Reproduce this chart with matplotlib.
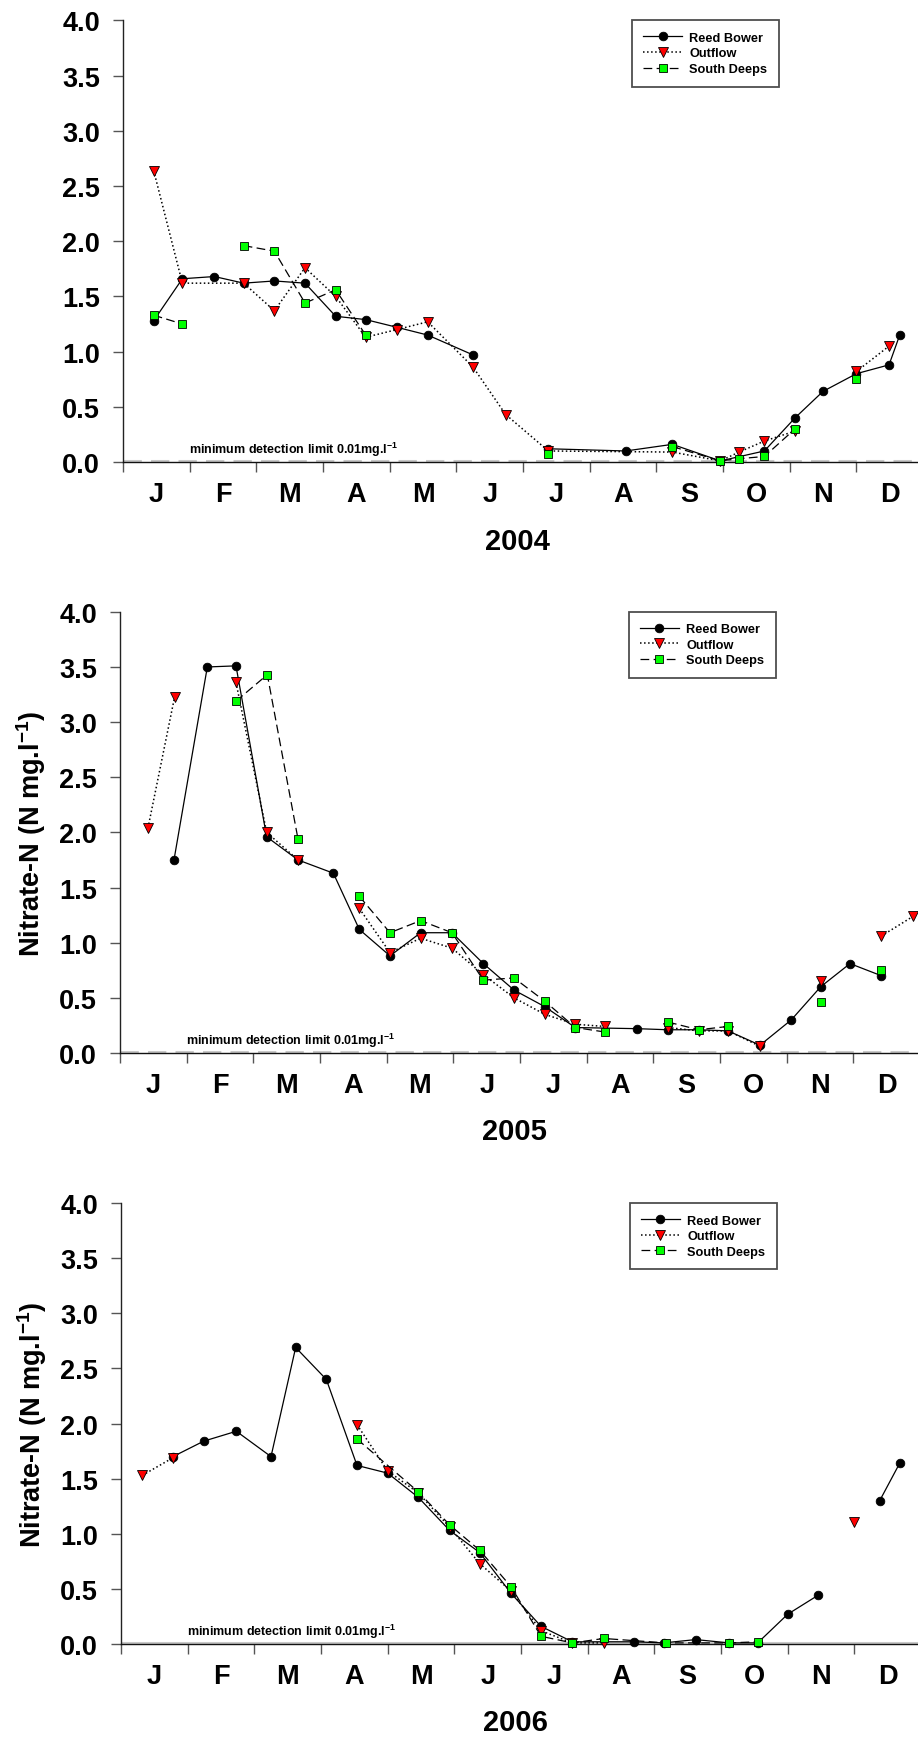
import numpy as np
import matplotlib
matplotlib.use("Agg")
import matplotlib.pyplot as plt

nan = np.nan

plt.rcParams['font.family'] = ['Liberation Sans', 'DejaVu Sans']
plt.rcParams['font.weight'] = 'bold'
plt.rcParams['mathtext.fontset'] = 'custom'
plt.rcParams['mathtext.rm'] = 'Liberation Sans:bold'
plt.rcParams['mathtext.bf'] = 'Liberation Sans:bold'

months = ['J', 'F', 'M', 'A', 'M', 'J', 'J', 'A', 'S', 'O', 'N', 'D']
years = ['2004', '2005', '2006']
series_names = ['Reed Bower', 'Outflow', 'South Deeps']

# x = months since 1 January, nan = gap in the line
rb04_m = [0.46, 0.89, 1.37, 1.81, 2.27, 2.73, 3.19, 3.64, 4.11, 4.57, 5.25, 5.8, 6.38, 7.54, 8.24, 8.96, 9.62, 10.08, 10.5, 11.0, 11.49, 11.65]
rb04_v = [1.28, 1.66, 1.68, 1.62, 1.64, 1.62, 1.32, 1.29, 1.22, 1.15, 0.97, nan, 0.12, 0.10, 0.16, 0.01, 0.10, 0.40, 0.64, 0.80, 0.88, 1.15]
of04_m = [0.46, 0.89, 1.81, 2.27, 2.73, 3.19, 3.64, 4.11, 4.57, 5.25, 5.74, 6.38, 8.24, 8.96, 9.24, 9.62, 10.08, 10.5, 11.0, 11.49]
of04_v = [2.64, 1.62, 1.62, 1.37, 1.76, 1.50, 1.13, 1.20, 1.27, 0.86, 0.43, 0.10, 0.09, 0.01, 0.09, 0.19, 0.28, nan, 0.82, 1.05]
sd04_m = [0.46, 0.89, 1.3, 1.81, 2.27, 2.73, 3.19, 3.64, 5.0, 6.38, 7.3, 8.24, 8.96, 9.24, 9.62, 10.08, 10.5, 11.0]
sd04_v = [1.33, 1.25, nan, 1.96, 1.91, 1.44, 1.56, 1.15, nan, 0.07, nan, 0.14, 0.01, 0.03, 0.05, 0.30, nan, 0.75]

rb05_m = [0.81, 1.31, 1.74, 2.2, 2.67, 3.2, 3.59, 4.05, 4.51, 4.98, 5.45, 5.91, 6.37, 6.83, 7.75, 8.22, 8.68, 9.12, 9.6, 10.07, 10.51, 10.95, 11.42]
rb05_v = [1.75, 3.50, 3.51, 1.96, 1.75, 1.63, 1.12, 0.88, 1.09, 1.09, 0.81, 0.57, 0.42, 0.23, 0.22, 0.21, 0.21, 0.20, 0.07, 0.30, 0.60, 0.81, 0.70]
of05_m = [0.42, 0.82, 1.3, 1.74, 2.2, 2.67, 3.1, 3.59, 4.05, 4.51, 4.98, 5.45, 5.91, 6.37, 6.83, 7.27, 7.7, 8.22, 8.68, 9.12, 9.6, 10.0, 10.51, 11.0, 11.42, 11.9]
of05_v = [2.04, 3.23, nan, 3.36, 2.00, 1.75, nan, 1.31, 0.91, 1.04, 0.95, 0.71, 0.50, 0.35, 0.26, 0.24, nan, 0.23, 0.20, 0.20, 0.06, nan, 0.65, nan, 1.06, 1.24]
sd05_m = [1.74, 2.21, 2.67, 3.1, 3.59, 4.05, 4.51, 4.98, 5.45, 5.91, 6.37, 6.83, 7.27, 7.7, 8.22, 8.68, 9.12, 9.8, 10.51, 11.0, 11.42]
sd05_v = [3.19, 3.43, 1.94, nan, 1.42, 1.09, 1.20, 1.09, 0.66, 0.68, 0.47, 0.23, 0.19, nan, 0.28, 0.21, 0.24, nan, 0.46, nan, 0.75]

rb06_m = [0.78, 1.24, 1.73, 2.25, 2.62, 3.08, 3.54, 4.0, 4.46, 4.93, 5.38, 5.85, 6.3, 6.77, 7.7, 8.14, 8.62, 9.12, 9.55, 10.0, 10.45, 10.9, 11.38, 11.68]
rb06_v = [1.70, 1.84, 1.93, 1.70, 2.69, 2.40, 1.62, 1.55, 1.33, 1.03, 0.83, 0.46, 0.16, 0.02, 0.02, 0.01, 0.04, 0.01, 0.01, 0.27, 0.44, nan, 1.30, 1.64]
of06_m = [0.32, 0.78, 2.0, 3.54, 4.0, 4.46, 4.93, 5.38, 5.85, 6.3, 6.77, 7.24, 9.0, 11.0]
of06_v = [1.53, 1.69, nan, 1.99, 1.57, 1.37, 1.06, 0.73, 0.48, 0.12, 0.01, 0.01, nan, 1.11]
sd06_m = [3.54, 4.46, 4.93, 5.38, 5.85, 6.3, 6.77, 7.24, 8.17, 9.12, 9.55]
sd06_v = [1.86, 1.38, 1.08, 0.85, 0.52, 0.07, 0.01, 0.05, 0.01, 0.01, 0.02]

data = [
    [(rb04_m, rb04_v), (of04_m, of04_v), (sd04_m, sd04_v)],
    [(rb05_m, rb05_v), (of05_m, of05_v), (sd05_m, sd05_v)],
    [(rb06_m, rb06_v), (of06_m, of06_v), (sd06_m, sd06_v)],
]

styles = [
    dict(color='black', ls='-', lw=0.9, marker='o', ms=6.2, mfc='black', mec='black', mew=0.6),
    dict(color='black', ls=':', lw=1.1, marker='v', ms=6.5, mfc='#ff0000', mec='black', mew=0.6),
    dict(color='black', ls=(0, (7, 3.5)), lw=0.9, marker='s', ms=5.6, mfc='#00ff00', mec='black', mew=0.6),
]

# axes positions measured in pixels of the 918x1740 picture
positions = [[0.134, 0.7339, 0.8715, 0.2538],
             [0.1307, 0.3943, 0.8715, 0.2535],
             [0.1318, 0.0546, 0.8715, 0.2534]]


def make_panel(fig, n):
    ax = fig.add_axes(positions[n])
    for s in range(3):
        x, y = data[n][s]
        ax.plot(x, y, label=series_names[s], clip_on=False, zorder=3 + s, **styles[s])

    # detection limit line
    ax.axhline(0.01, color='#c8c8c8', lw=2.2, ls=(0, (6, 3)) if n < 2 else '-', zorder=1)

    ax.set_xlim(0, 12)
    ax.set_ylim(0, 4.0)
    ax.spines['top'].set_visible(False)
    ax.spines['right'].set_visible(False)
    ax.spines['left'].set_color('#222222')
    ax.spines['bottom'].set_color('#111111')
    ax.spines['left'].set_linewidth(1.0)
    ax.spines['bottom'].set_linewidth(1.0)

    ax.set_xticks(np.arange(0, 12))
    ax.set_xticklabels([])
    ax.set_xticks(np.arange(12) + 0.5, minor=True)
    ax.set_xticklabels(months, minor=True, fontsize=19.5, fontweight='bold')
    ax.tick_params(axis='x', which='major', direction='out', length=7.5, width=1.0, color='#555555')
    ax.tick_params(axis='x', which='minor', length=0, pad=14)

    ax.set_yticks(np.arange(0, 4.01, 0.5))
    ax.set_yticklabels(['%.1f' % v for v in np.arange(0, 4.01, 0.5)], fontsize=19.5, fontweight='bold')
    ax.tick_params(axis='y', direction='out', length=7.5, width=1.0, color='#555555', pad=9)

    ax.text(0.99, 0.04, 'minimum detection limit 0.01mg.l$^{-1}$', fontsize=9,
            fontweight='bold', ha='left', va='bottom')

    ax.text(0.4925, -0.178, years[n], transform=ax.transAxes, fontsize=21,
            fontweight='bold', ha='center', va='center')

    if n > 0:
        ax.text(-0.111, 0.5, r'Nitrate-N (N mg.l$^{\mathbf{-1}}$)', transform=ax.transAxes,
                rotation=90, fontsize=19.5, fontweight='bold', ha='center', va='center')

    leg = ax.legend(loc='upper left', bbox_to_anchor=(0.636, 1.0), borderaxespad=0,
                    fontsize=9.2, frameon=True, fancybox=False, handlelength=3.0,
                    handletextpad=0.6, labelspacing=0.28, borderpad=0.9,
                    prop={'weight': 'bold', 'size': 9.2})
    leg.get_frame().set_edgecolor('#222222')
    leg.get_frame().set_linewidth(1.3)
    return ax


fig = plt.figure(figsize=(9.18, 17.4), dpi=100)
for n in range(3):
    make_panel(fig, n)

plt.savefig('out.png', dpi=100)
